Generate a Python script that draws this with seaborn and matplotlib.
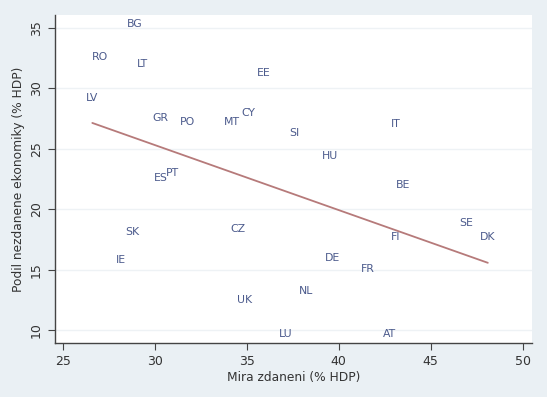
import seaborn as sns
import pandas as pd
import matplotlib.pyplot as plt
import numpy as np

countries = ["BG", "RO", "LT", "EE", "LV", "GR", "PO", "MT", "CY", "ES", "PT", "SI", "IT", "HU",
             "BE", "SK", "CZ", "IE", "UK", "LU", "AT", "NL", "DE", "FR", "FI", "SE", "DK"]
tax_rate = [28.9, 27.0, 29.3, 35.9, 26.6, 30.3, 31.75, 34.2, 35.1, 30.35, 30.95, 37.6, 43.1, 39.5,
            43.5, 28.8, 34.5, 28.15, 34.9, 37.1, 42.75, 38.2, 39.65, 41.6, 43.1, 46.9, 48.1]
shadow_econ = [35.3, 32.6, 32.05, 31.3, 29.2, 27.55, 27.25, 27.25, 28.0, 22.55, 23.0, 26.3, 27.05, 24.4,
               22.0, 18.15, 18.35, 15.8, 12.5, 9.65, 9.65, 13.25, 16.0, 15.05, 17.7, 18.85, 17.7]

def plotData(df):
    sns.set_style("white")
    bg = "#eaf0f4"
    fig = plt.figure(figsize=(5.47, 3.97), dpi=100, facecolor=bg)
    ax = fig.add_axes([0.1005, 0.136, 0.872, 0.827])
    ax.set_facecolor("white")

    # labels centred on the points, no markers
    for c, x, y in zip(df["country"], df["tax"], df["shadow"]):
        ax.text(x, y, c, ha="center", va="center", fontsize=7.8, color="#4b5a8c")

    sns.regplot(data=df, x="tax", y="shadow", scatter=False, ci=None, ax=ax,
                line_kws={"color": "#b67a7a", "linewidth": 1.3})

    ax.set_xlim(24.57, 50.5)
    ax.set_ylim(8.93, 36.1)
    ax.set_xticks([25, 30, 35, 40, 45, 50])
    ax.set_yticks([10, 15, 20, 25, 30, 35])
    ax.yaxis.grid(True, color="#eef2f5", linewidth=1)
    ax.set_axisbelow(True)
    for s in ["top", "right"]:
        ax.spines[s].set_visible(False)
    for s in ["left", "bottom"]:
        ax.spines[s].set_color("#444444")
        ax.spines[s].set_linewidth(1.0)
    ax.tick_params(axis="both", direction="out", length=5, width=0.8, color="#444444",
                   labelsize=9, labelcolor="#333333", left=True, bottom=True)
    plt.setp(ax.get_yticklabels(), rotation=90, va="center")
    ax.set_xlabel("Mira zdaneni (% HDP)", fontsize=8.8, color="#333333", labelpad=2)
    ax.set_ylabel("Podil nezdanene ekonomiky (% HDP)", fontsize=8.8, color="#333333", labelpad=4)
    fig.savefig("out.png", dpi=100, facecolor=bg)

def main():
    data = pd.DataFrame({"country": countries, "tax": tax_rate, "shadow": shadow_econ})
    plotData(data)

if __name__ == "__main__":
    main()
